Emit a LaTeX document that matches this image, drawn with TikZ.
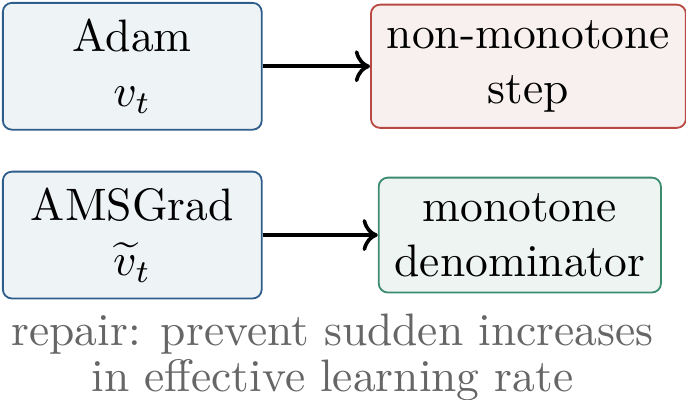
\documentclass[tikz,border=0pt]{standalone}
\usepackage{amsmath,amssymb}
\usepackage{xcolor}
\usepackage{tikz}
\usetikzlibrary{positioning,arrows.meta,calc}

\definecolor{adamblue}{RGB}{47,93,140}
\definecolor{adamfill}{RGB}{238,243,246}
\definecolor{badred}{RGB}{184,74,67}
\definecolor{badfill}{RGB}{248,240,239}
\definecolor{goodgreen}{RGB}{60,140,110}
\definecolor{goodfill}{RGB}{238,244,241}

\begin{document}
\begin{tikzpicture}[
  box/.style   = {draw, rounded corners=2pt, align=center, inner sep=3.5pt},
  opt/.style   = {box, draw=adamblue, fill=adamfill,
                  minimum width=20mm, minimum height=9.8mm},
  bad/.style   = {box, draw=badred, fill=badfill},
  good/.style  = {box, draw=goodgreen, fill=goodfill},
  flow/.style  = {-{To}, thick},
  note/.style  = {align=center, text=black!60},
]
\useasboundingbox (0,0) rectangle (5.30,-3.09);

% ---------- top row ----------
\node[opt, anchor=north west] (adam) at (0.015,-0.015) {Adam\\$v_t$};
\node[bad, right=8.3mm of adam] (nonmono) {non-monotone\\step};
\draw[flow] (adam) -- (nonmono);

% ---------- bottom row ----------
\node[opt, below=3.1mm of adam] (amsgrad) {AMSGrad\\$\widetilde{v}_t$};
\node[good, right=8.9mm of amsgrad] (mono) {monotone\\denominator};
\draw[flow] (amsgrad) -- (mono);

\node[note, anchor=north] (repair) at ($(amsgrad.south)!0.5!(mono.south)+(0.05,-0.015)$)
      {repair: prevent sudden increases\\[-2pt]in effective learning rate};

\end{tikzpicture}
\end{document}
